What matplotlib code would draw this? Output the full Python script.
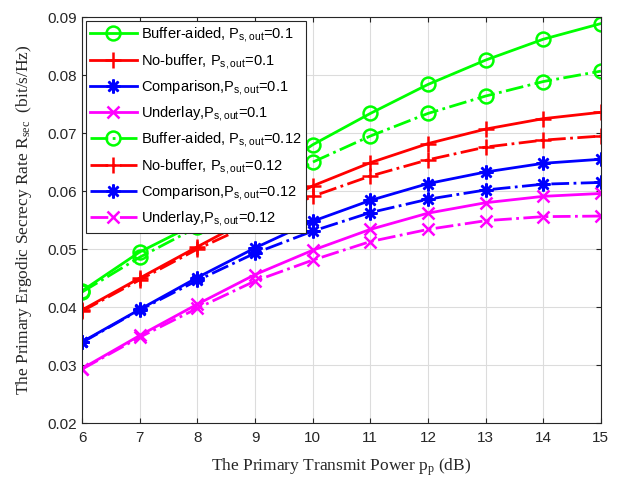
import numpy as np
import matplotlib
matplotlib.use('Agg')
import matplotlib.pyplot as plt

# transmit power (dB)
pp = [6, 7, 8, 9, 10, 11, 12, 13, 14, 15]

# P_s,out = 0.1
buf_01 = [0.0428, 0.0495, 0.0545, 0.0612, 0.0680, 0.0734, 0.0784, 0.0826, 0.0862, 0.0889]
nobuf_01 = [0.0395, 0.0450, 0.0504, 0.0557, 0.0609, 0.0649, 0.0682, 0.0707, 0.0725, 0.0736]
comp_01 = [0.0340, 0.0396, 0.0451, 0.0502, 0.0548, 0.0584, 0.0613, 0.0633, 0.0648, 0.0655]
under_01 = [0.0294, 0.0351, 0.0405, 0.0456, 0.0498, 0.0534, 0.0562, 0.0580, 0.0591, 0.0596]

# P_s,out = 0.12
buf_012 = [0.0426, 0.0486, 0.0538, 0.0595, 0.0650, 0.0695, 0.0734, 0.0764, 0.0789, 0.0807]
nobuf_012 = [0.0393, 0.0447, 0.0500, 0.0546, 0.0591, 0.0626, 0.0654, 0.0676, 0.0688, 0.0695]
comp_012 = [0.0339, 0.0395, 0.0446, 0.0493, 0.0531, 0.0563, 0.0586, 0.0602, 0.0612, 0.0615]
under_012 = [0.0293, 0.0348, 0.0398, 0.0445, 0.0481, 0.0513, 0.0534, 0.0549, 0.0556, 0.0557]

sub = r'P$\mathregular{_{s,out}}$'
labels = ['Buffer-aided, ' + sub + '=0.1', 'No-buffer, ' + sub + '=0.1',
          'Comparison,' + sub + '=0.1', 'Underlay,' + sub + '=0.1',
          'Buffer-aided, ' + sub + '=0.12', 'No-buffer, ' + sub + '=0.12',
          'Comparison,' + sub + '=0.12', 'Underlay,' + sub + '=0.12']

plt.rcParams['font.family'] = ['Liberation Sans', 'DejaVu Sans']

fig = plt.figure(figsize=(6.22, 4.78), dpi=100)
ax = fig.add_axes([0.132, 0.115, 0.834, 0.849])

asterisk = (8, 2, 0)
series = [
    (buf_01, '#00ff00', '-', 'o', 10),
    (nobuf_01, '#ff0000', '-', '+', 11),
    (comp_01, '#0000ff', '-', asterisk, 10),
    (under_01, '#ff00ff', '-', 'x', 8),
    (buf_012, '#00ff00', '-.', 'o', 10),
    (nobuf_012, '#ff0000', '-.', '+', 11),
    (comp_012, '#0000ff', '-.', asterisk, 10),
    (under_012, '#ff00ff', '-.', 'x', 8),
]
for (vals, c, ls, m, ms), lab in zip(series, labels):
    ax.plot(pp, vals, color=c, linestyle=ls, marker=m, markersize=ms,
            markerfacecolor='none', markeredgewidth=1.8, linewidth=2, label=lab)

ax.set_xlim(6, 15)
ax.set_ylim(0.02, 0.09)
ax.set_xticks(pp)
ax.set_yticks(np.arange(0.02, 0.0901, 0.01))
ax.set_yticklabels(['0.02', '0.03', '0.04', '0.05', '0.06', '0.07', '0.08', '0.09'])
ax.tick_params(direction='in', top=True, right=True, labelsize=11, colors='#262626')
ax.tick_params(axis='x', pad=6)
ax.grid(True, color='#dcdcdc', linewidth=0.8)
ax.set_axisbelow(True)
for s in ax.spines.values():
    s.set_color('#262626')

ax.set_xlabel(r'The Primary Transmit Power p$\mathregular{_p}$ (dB)',
              family='Liberation Serif', fontsize=12.5, color='#262626', labelpad=8)
ax.set_ylabel(r'The Primary Ergodic Secrecy Rate R$\mathregular{_{sec}}$  (bit/s/Hz)',
              family='Liberation Serif', fontsize=12.5, color='#262626', labelpad=10)

leg = ax.legend(loc='upper left', fontsize=10.5, handlelength=3.2, labelspacing=0.5,
                borderpad=0.3, handletextpad=0.3, fancybox=False, framealpha=1,
                borderaxespad=0.25)
leg.get_frame().set_edgecolor('#262626')
leg.get_frame().set_linewidth(0.8)

fig.savefig('out.png', dpi=100)
